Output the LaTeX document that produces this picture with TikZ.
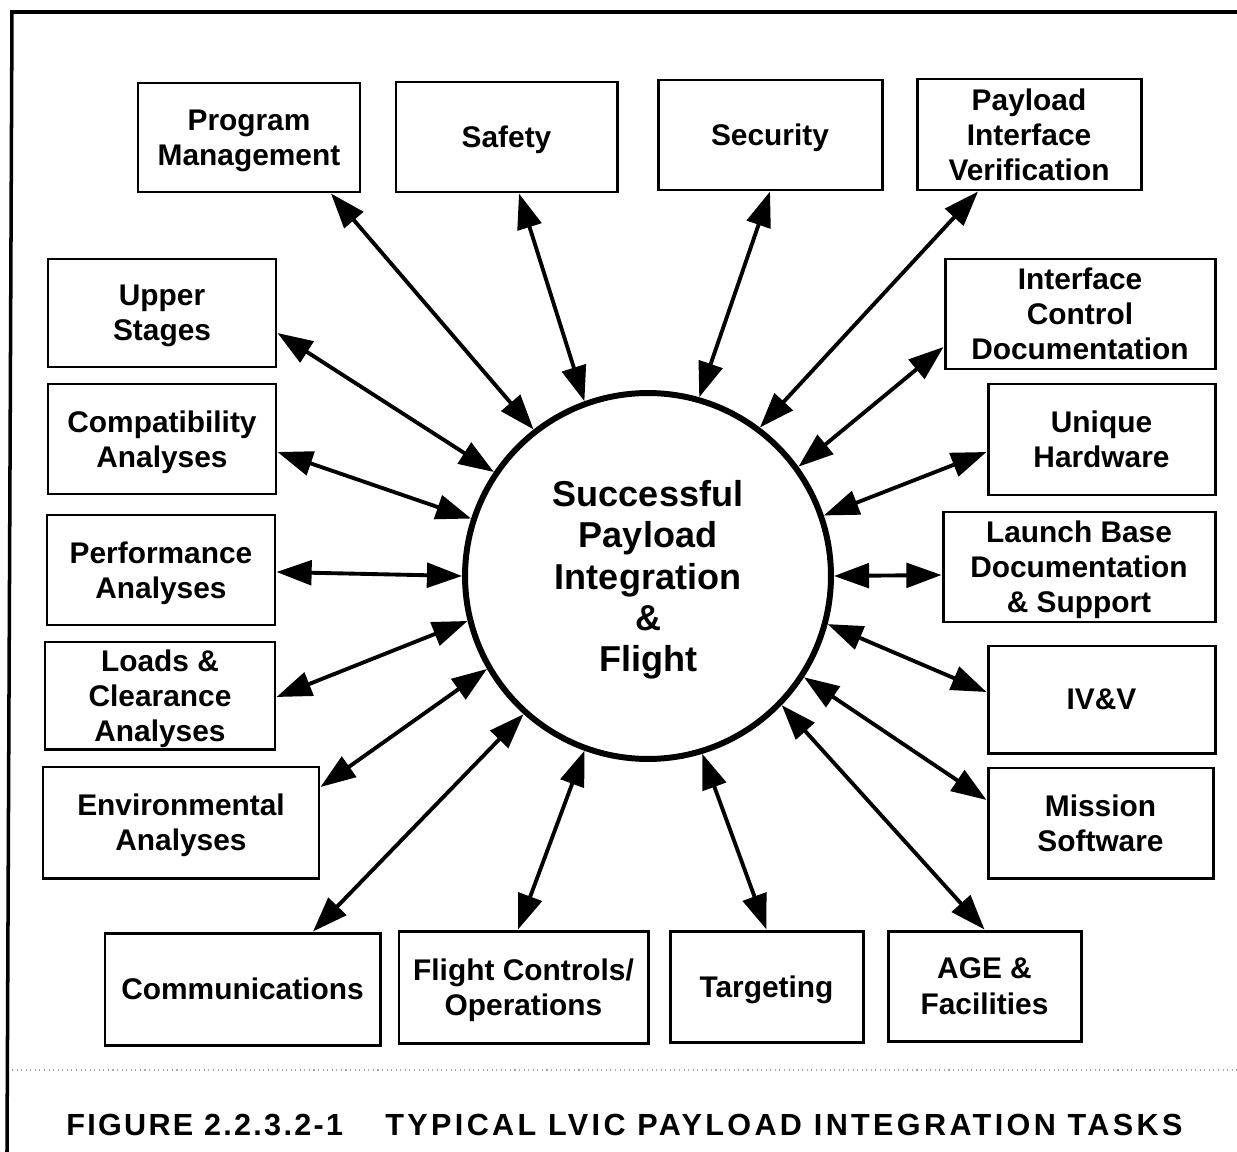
\documentclass[tikz,border=0pt]{standalone}
\usepackage{fontspec}
\setmainfont{Liberation Sans}
\usetikzlibrary{arrows.meta,calc}

% task box given by its corner coordinates (in picture units)
\newcommand\taskbox[6]{%
  \pgfmathsetmacro\bxw{(#4-#2)*0.02}%
  \pgfmathsetmacro\bxh{(#5-#3)*0.02}%
  \node[task,minimum width=\bxw cm,minimum height=\bxh cm]
    (#1) at ({(#2+#4)/2},{(#3+#5)/2}) {#6};}

\begin{document}
\begin{tikzpicture}[x=0.02cm,y=-0.02cm,
  task/.style={draw,line width=1.7pt,inner sep=0pt,align=center,text depth=0pt,
    font=\fontsize{17}{20}\selectfont\bfseries},
  hub/.style={circle,draw,line width=3.4pt,inner sep=0pt,minimum size=7.32cm,
    align=center,text depth=0pt,font=\fontsize{20.5}{23.6}\selectfont\bfseries},
  link/.style={line width=2.2pt,
    {Triangle[length=20pt,width=14pt]}-{Triangle[length=20pt,width=14pt]}},
  caption/.style={anchor=base west,inner sep=0pt,
    font=\fontsize{17.4}{20}\selectfont\bfseries}]
\useasboundingbox (0,0) rectangle (1237,1152);

% frame and separator
\coordinate (frameBL) at (7,1152);
\coordinate (frameTL) at (12,12);
\coordinate (frameTR) at (1237,12);
\draw[line width=2pt] (frameBL) -- (frameTL) -- (frameTR);
\coordinate (sepL) at (12,1070);
\coordinate (sepR) at (1237,1070);
\draw[black!35,dotted,line width=0.6pt] (sepL) -- (sepR);

% central goal
\node[hub] (goal) at (648,576) {Successful\\Payload\\Integration\\\&\\Flight};

% top row
\taskbox{pm}{138}{83}{360}{192}{Program\\Management}
\taskbox{safety}{396}{82}{617}{192}{Safety}
\taskbox{security}{658}{80}{882}{190}{Security}
\taskbox{piv}{917}{79}{1141}{190}{Payload\\Interface\\Verification}

% left column
\taskbox{upper}{48}{259}{276}{367}{Upper\\Stages}
\taskbox{compat}{48}{384}{276}{494}{Compatibility\\Analyses}
\taskbox{perf}{47}{515}{275}{625}{Performance\\Analyses}
\taskbox{loads}{45}{642}{275}{749}{Loads \&\\Clearance\\Analyses}
\taskbox{env}{43}{767}{319}{878}{Environmental\\Analyses}

% right column
\taskbox{icd}{945}{259}{1215}{369}{Interface\\Control\\Documentation}
\taskbox{unique}{988}{384}{1215}{495}{Unique\\Hardware}
\taskbox{launch}{943}{512}{1215}{622}{Launch Base\\Documentation\\\& Support}
\taskbox{ivv}{988}{646}{1215}{753}{IV\&V}
\taskbox{mission}{988}{768}{1213}{878}{Mission\\Software}

% bottom row
\taskbox{comm}{105}{933}{380}{1045}{Communications}
\taskbox{flight}{399}{931}{648}{1043}{Flight Controls/\\Operations}
\taskbox{target}{670}{931}{863}{1042}{Targeting}
\taskbox{age}{888}{931}{1081}{1041}{AGE \&\\Facilities}

% links
\draw[link] ($(pm.south)+(82,0)$) -- (goal.128.5);
\draw[link] ($(safety.south)+(12.5,0)$) -- (goal.110);
\draw[link] (security.south) -- (goal.74.8);
\draw[link] ($(piv.south)+(-51,0)$) -- (goal.53);
\draw[link] ($(icd.west)+(0,33)$) -- (goal.36.9);
\draw[link] ($(unique.west)+(0,12.5)$) -- (goal.19.9);
\draw[link] ($(launch.west)+(0,8)$) -- (goal.0);
\draw[link] ($(ivv.west)+(0,-7.5)$) -- (goal.-15.5);
\draw[link] ($(mission.west)+(0,-23)$) -- (goal.-33);
\draw[link] (age.north) -- (goal.-44.8);
\draw[link] (target.north) -- (goal.-73.1);
\draw[link] ($(flight.north)+(-5.5,0)$) -- (goal.-110.6);
\draw[link] ($(comm.north)+(70.5,0)$) -- (goal.-132.7);
\draw[link] ($(env.east)+(0,-35.5)$) -- (goal.210.5);
\draw[link] ($(loads.east)+(0,1.5)$) -- (goal.194.8);
\draw[link] ($(perf.east)+(0,2)$) -- (goal.180);
\draw[link] ($(compat.east)+(0,13)$) -- (goal.162.7);
\draw[link] ($(upper.east)+(0,20)$) -- (goal.146.6);

% caption
\node[caption] (capnum) at (66,1135)
  {\addfontfeature{LetterSpace=7.5}FIGURE 2.2.3.2-1};
\node[caption] (captext) at (385,1135)
  {\addfontfeature{LetterSpace=11}TYPICAL LVIC PAYLOAD INTEGRATION TASKS};
\end{tikzpicture}
\end{document}
